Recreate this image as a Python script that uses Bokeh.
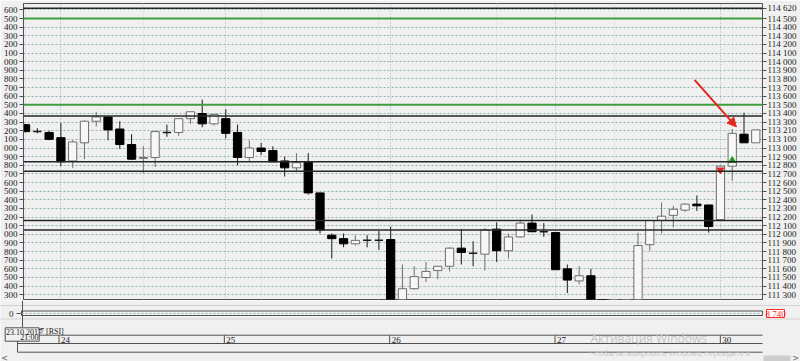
import numpy as np
from bokeh.plotting import figure
from bokeh.models import (Range1d, FixedTicker, LinearAxis, Grid, Span,
                          Arrow, NormalHead, ColumnDataSource)
from bokeh.embed import file_html
from bokeh.resources import INLINE
from bokeh.core.properties import value

# ---------------- data (hourly candles, 23.10.2017 21:00 .. 30.10.2017 13:00) -------------
OPEN = [113270, 113190, 113180, 113120, 112850, 113060, 113310, 113360, 113220, 113040,
        112880, 112890, 113180, 113180, 113340, 113400, 113280, 113340, 113180, 112890,
        113000, 112970, 112850, 112770, 112840, 112480, 111990, 111950, 111890, 111930,
        111930, 111940, 111220, 111370, 111500, 111580, 111630, 111840, 111780, 111770,
        112060, 111810, 111970, 112130, 112030, 112020, 111600, 111460, 111520, 111200,
        111050, 111100, 111150, 111880, 112160, 112220, 112280, 112350, 112340, 112170,
        112790, 113160, 113060]
HIGH = [113280, 113230, 113200, 113290, 113090, 113320, 113420, 113360, 113310, 113160,
        113020, 113200, 113270, 113340, 113420, 113560, 113390, 113450, 113270, 113090,
        113060, 113020, 112900, 112940, 112940, 112480, 112010, 112010, 111990, 111990,
        112040, 112090, 111650, 111630, 111680, 111630, 111850, 112060, 111920, 112070,
        112140, 112010, 112170, 112230, 112130, 112030, 111650, 111630, 111600, 111220,
        111150, 111200, 112020, 112170, 112370, 112330, 112360, 112450, 112340, 112790,
        113220, 113410, 113210]
LOW = [113180, 113170, 113090, 112790, 112770, 112870, 113250, 113090, 112990, 112860,
       112710, 112780, 113130, 113140, 113280, 113240, 113260, 113110, 112800, 112850,
       112920, 112840, 112670, 112720, 112460, 112010, 111720, 111850, 111870, 111850,
       111820, 111200, 111150, 111360, 111450, 111480, 111570, 111650, 111630, 111580,
       111680, 111720, 111960, 112030, 111970, 111590, 111320, 111420, 111150, 111000,
       110950, 111050, 111100, 111810, 112010, 112080, 112260, 112270, 112020, 112160,
       112620, 113060, 113060]
CLOSE = [113190, 113190, 113100, 112840, 113070, 113310, 113360, 113210, 113040, 112870,
         112890, 113190, 113180, 113340, 113420, 113280, 113390, 113170, 112890, 113000,
         112960, 112840, 112770, 112830, 112480, 112050, 111950, 111890, 111930, 111930,
         111930, 111220, 111370, 111510, 111570, 111630, 111840, 111790, 111780, 112050,
         111810, 111970, 112130, 112030, 112030, 111590, 111470, 111520, 111200, 111050,
         111100, 111150, 111870, 112160, 112210, 112290, 112350, 112330, 112090, 112790,
         113170, 113060, 113210]

PRICE_TICKS = [111300, 111400, 111500, 111600, 111700, 111800, 111900, 112000, 112100,
               112200, 112300, 112400, 112500, 112600, 112700, 112800, 112900, 113000,
               113100, 113200, 113300, 113400, 113500, 113600, 113700, 113800, 113900,
               114000, 114100, 114200, 114300, 114400, 114500, 114600]
DAY_START = [3, 17, 31, 45, 59]
DAY_LABELS = ["24", "25", "26", "27", "30"]
GREEN_LEVELS = [114500, 113500]
BLACK_LEVELS = [114620, 113370, 112840, 112730, 112160, 112050]
SIGNAL_X = [59, 60]
SIGNAL_Y = [112745, 112855]
SIGNAL_MARKER = ["inverted_triangle", "triangle"]
SIGNAL_COLOR = ["#e3261c", "#1e9a1e"]
LAST_PRICE = CLOSE[-1]
TOP_LEVEL = BLACK_LEVELS[0]
RSI_VALUE = "8 740"
START_DATE = "23.10.2017"
START_TIME = "21:00"
ARROW_FROM = (56.8, 113790)
ARROW_TO = (60.35, 113245)

BG = "#f0f0f0"
FONT = "Liberation Sans Narrow"
AX = "#505050"

# ---------------- layout constants -----------------
W, H_MAIN, H_BOT = 800, 300, 61
FL, FR = 21, 762
X0, X1 = -0.175, 62.57
Y0, Y1 = 111245, 114674


def fmt_full(t):
    return f"{t // 1000} {t % 1000:03d}"


p = figure(width=W, height=H_MAIN, x_range=Range1d(X0, X1), y_range=Range1d(Y0, Y1),
           output_backend="svg", toolbar_location=None,
           x_axis_location=None, y_axis_location=None,
           min_border_left=FL, min_border_right=W - FR, min_border_top=3, min_border_bottom=1,
           background_fill_color=BG, border_fill_color=BG, outline_line_color=AX)


def mk_axis(ticks, overrides, standoff, tick_out):
    return LinearAxis(ticker=FixedTicker(ticks=ticks), major_label_overrides=overrides,
                      major_label_text_font=FONT, major_label_text_font_size="9px",
                      major_label_text_color="#1a1a1a",
                      major_tick_out=tick_out, major_tick_in=0, minor_tick_out=0, minor_tick_in=0,
                      major_label_standoff=standoff, axis_line_color=AX,
                      major_tick_line_color=AX)


p.add_layout(mk_axis(PRICE_TICKS, {t: f"{t % 1000:03d}" for t in PRICE_TICKS}, 2, 4), "left")
# right scale: the last-price and top-level tags cover the neighbouring round labels
right_ticks = [t for t in PRICE_TICKS
               if abs(t - LAST_PRICE) > 40 and abs(t - TOP_LEVEL) > 40] + [LAST_PRICE, TOP_LEVEL]
p.add_layout(mk_axis(sorted(right_ticks), {t: fmt_full(t) for t in right_ticks}, 1, 4), "right")

p.add_layout(Grid(dimension=1, ticker=FixedTicker(ticks=PRICE_TICKS),
                  grid_line_color="#8fb2b2", grid_line_dash="2 2", grid_line_width=1))
p.add_layout(Grid(dimension=0, ticker=FixedTicker(ticks=DAY_START),
                  grid_line_color="#93b9c0", grid_line_dash="1 2", grid_line_width=1))

for lv in GREEN_LEVELS:
    p.add_layout(Span(location=lv, dimension="width", line_color="#3f9f3f", line_width=2))
for lv in BLACK_LEVELS:
    p.add_layout(Span(location=lv, dimension="width", line_color="#262626", line_width=1.5))

o, h, l, c = (np.array(a, dtype=float) for a in (OPEN, HIGH, LOW, CLOSE))
xs = np.arange(len(o))
up = c > o
dn = c < o
eq = c == o
BW = 0.7

wick_col = np.where(up, "#6e6e6e", "#1a1a1a")
p.segment(x0=xs, y0=l, x1=xs, y1=h, line_color=list(wick_col), line_width=1)

src_up = ColumnDataSource(dict(x=xs[up], top=c[up], bottom=o[up]))
src_dn = ColumnDataSource(dict(x=xs[dn], top=o[dn], bottom=c[dn]))
p.vbar(x="x", top="top", bottom="bottom", width=BW, source=src_up,
       fill_color="#f7f7f7", line_color="#6e6e6e", line_width=1)
p.vbar(x="x", top="top", bottom="bottom", width=BW, source=src_dn,
       fill_color="#000000", line_color="#000000", line_width=1)
p.segment(x0=xs[eq] - BW / 2, y0=o[eq], x1=xs[eq] + BW / 2, y1=o[eq],
          line_color="#1a1a1a", line_width=1.5)

p.scatter(x=SIGNAL_X, y=SIGNAL_Y, marker=SIGNAL_MARKER, color=SIGNAL_COLOR, size=7)

p.add_layout(Arrow(end=NormalHead(size=9, fill_color="#e3261c", line_color="#e3261c"),
                   x_start=ARROW_FROM[0], y_start=ARROW_FROM[1],
                   x_end=ARROW_TO[0], y_end=ARROW_TO[1],
                   line_color="#e3261c", line_width=2))

# ---------------- bottom strip (RSI pane, time scale) -----------------
s = (X1 - X0) / (FR - FL)
b = figure(width=W, height=H_BOT, x_range=Range1d(X0 - FL * s, X1 + (W - FR) * s),
           y_range=Range1d(H_BOT, 0), output_backend="svg", toolbar_location=None,
           x_axis_location=None, y_axis_location=None, min_border=0,
           min_border_left=0, min_border_right=0, min_border_top=0, min_border_bottom=0,
           background_fill_color=BG, border_fill_color=BG, outline_line_color=None)
b.extra_x_ranges = {"px": Range1d(0, W)}
b.grid.visible = False
PX = dict(x_range_name="px")
SMALL = dict(text_font=value(FONT), text_font_size=value("9px"), text_color="#1a1a1a",
             text_baseline="middle")

# panel separators
b.segment(x0=[0, 0], y0=[5, 18.5], x1=[W, W], y1=[5, 18.5], line_color="#d2d2d2", **PX)
b.segment(x0=[22], y0=[0], x1=[22], y1=[27], line_color=AX, **PX)
# RSI pane
b.quad(left=[FL], right=[FR], top=[10.5], bottom=[15], fill_color=None, line_color=AX, **PX)
b.segment(x0=[FL], y0=[13], x1=[FR], y1=[13], line_color="#8fb2b2", line_dash="2 2", **PX)
b.segment(x0=[16], y0=[13], x1=[21], y1=[13], line_color=AX, **PX)
b.text(x=[13], y=[13], text=["0"], text_align="right", **SMALL, **PX)
b.quad(left=[766], right=[784], top=[9], bottom=[17], fill_color="#ffffff",
       line_color="#f03030", **PX)
b.text(x=[775], y=[13.3], text=[RSI_VALUE], text_align="center", text_baseline="middle",
       text_font=value(FONT), text_font_size=value("9px"), text_color="#ff2020", **PX)
# time scale
b.segment(x0=[17, 17, 17], y0=[34.7, 43, 51.7], x1=[FR, FR, FR], y1=[34.7, 43, 51.7],
          line_color=AX, **PX)
b.segment(x0=[17], y0=[34.7], x1=[17], y1=[51.7], line_color=AX, **PX)
b.segment(x0=DAY_START, y0=[34.7] * len(DAY_START), x1=DAY_START, y1=[43] * len(DAY_START),
          line_color=AX)
b.text(x=DAY_START, y=[39.2] * len(DAY_START), text=DAY_LABELS, x_offset=2, **SMALL)
b.quad(left=[4.7], right=[38.7], top=[27.3], bottom=[40.7], fill_color=BG, line_color=AX, **PX)
b.text(x=[5.5], y=[31.2], text=[START_DATE], text_baseline="middle", text_font=value(FONT),
       text_font_size=value("8px"), text_color="#1a1a1a", **PX)
b.text(x=[38], y=[37.4], text=[START_TIME], text_align="right", text_baseline="middle",
       text_font=value(FONT), text_font_size=value("8px"), text_color="#1a1a1a", **PX)
b.text(x=[39.5], y=[31.2], text=["7 [RSI]"], text_baseline="middle", text_font=value(FONT),
       text_font_size=value("8px"), text_color="#1a1a1a", **PX)
# Windows watermark
b.text(x=[590], y=[38], text=["Активация Windows"], text_baseline="middle",
       text_font=value("Open Sans"), text_font_size=value("12px"), text_color="#c6c6c6", **PX)
b.text(x=[590], y=[52], text=["Чтобы активировать Windows, перейдите в"],
       text_baseline="middle", text_font=value("Open Sans"), text_font_size=value("7.5px"),
       text_color="#c6c6c6", **PX)
# scrollbar
b.quad(left=[763], right=[790], top=[55], bottom=[61], fill_color="#cdcdcd", line_color=None, **PX)
b.text(x=[4, 795], y=[57.5, 57.5], text=["<", ">"], text_align="center", text_baseline="middle",
       text_font=value("DejaVu Sans"), text_font_size=value("8px"), text_color="#606060", **PX)

open("out.html", "w").write(file_html([p, b], INLINE))
